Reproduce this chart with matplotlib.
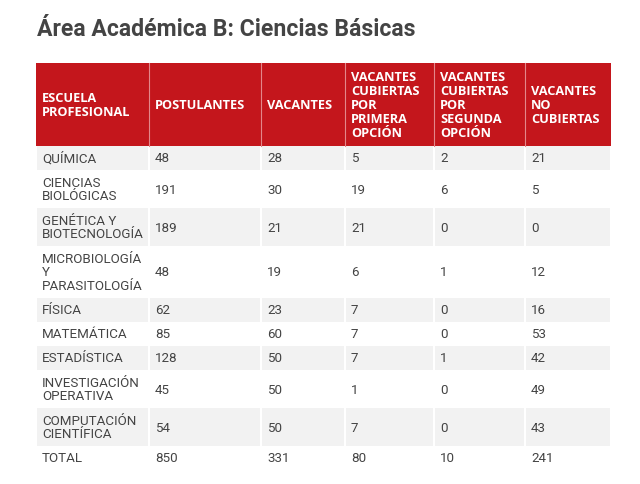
import matplotlib
matplotlib.use("Agg")
import matplotlib.pyplot as plt
from matplotlib.patches import Rectangle

# Table content
title = "Área Académica B: Ciencias Básicas"
headers = ["ESCUELA\nPROFESIONAL", "POSTULANTES", "VACANTES",
           "VACANTES\nCUBIERTAS\nPOR\nPRIMERA\nOPCIÓN",
           "VACANTES\nCUBIERTAS\nPOR\nSEGUNDA\nOPCIÓN",
           "VACANTES\nNO\nCUBIERTAS"]
escuelas = ["QUÍMICA", "CIENCIAS\nBIOLÓGICAS", "GENÉTICA Y\nBIOTECNOLOGÍA",
            "MICROBIOLOGÍA\nY\nPARASITOLOGÍA", "FÍSICA", "MATEMÁTICA",
            "ESTADÍSTICA", "INVESTIGACIÓN\nOPERATIVA", "COMPUTACIÓN\nCIENTÍFICA",
            "TOTAL"]
postulantes = [48, 191, 189, 48, 62, 85, 128, 45, 54, 850]
vacantes = [28, 30, 21, 19, 23, 60, 50, 50, 50, 331]
primera = [5, 19, 21, 6, 7, 7, 7, 1, 7, 80]
segunda = [2, 6, 0, 1, 0, 0, 1, 0, 0, 10]
no_cubiertas = [21, 5, 0, 12, 16, 53, 42, 49, 43, 241]

# Layout (pixels)
W, H = 640, 484
col_edges = [36, 149, 261, 345, 434, 525, 611]
header_top, header_bottom = 63, 146
line_h = 14
red = "#c4161c"
stripe = "#f2f2f2"
text_col = "#444444"

fig = plt.figure(figsize=(W / 100, H / 100), dpi=100)
ax = fig.add_axes([0, 0, 1, 1])
ax.set_xlim(0, W)
ax.set_ylim(H, 0)
ax.axis("off")

ax.text(37, 30, title, fontsize=16.6, fontweight="bold", family="Roboto",
        color="#444444", va="center", ha="left")

# header
ax.add_patch(Rectangle((col_edges[0], header_top), col_edges[-1] - col_edges[0],
                       header_bottom - header_top, color=red, lw=0))
for x in col_edges[1:-1]:
    ax.plot([x, x], [header_top, header_bottom], color="#e3878a", lw=0.8)
hy = (header_top + header_bottom) / 2 + 1
for i, h in enumerate(headers):
    ax.text(col_edges[i] + 6, hy, h, fontsize=9.2, fontweight="bold",
            family="Open Sans", color="white", va="center", ha="left",
            linespacing=1.08)

# body
rows = list(zip(escuelas, postulantes, vacantes, primera, segunda, no_cubiertas))
y = header_bottom
for r, row in enumerate(rows):
    n = row[0].count("\n") + 1
    rh = 10 + line_h * n
    if r % 2 == 0:
        for i in range(len(col_edges) - 1):
            ax.add_patch(Rectangle((col_edges[i] + 1, y), col_edges[i + 1] - col_edges[i] - 2,
                                   rh, color=stripe, lw=0))
    cy = y + rh / 2 + 1
    for i, val in enumerate(row):
        ax.text(col_edges[i] + 6, cy, str(val), fontsize=9.6, family="Roboto",
                color=text_col, va="center", ha="left", linespacing=1.04)
    y += rh

fig.savefig("out.png", dpi=100)
